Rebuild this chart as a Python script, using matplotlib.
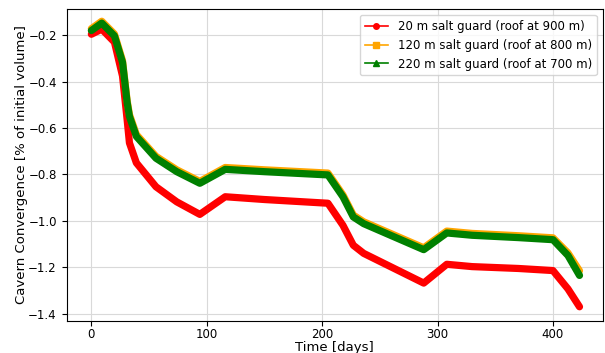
import matplotlib
matplotlib.use("Agg")
from matplotlib import pyplot as plt
from matplotlib.lines import Line2D

# time axis shared by the three runs
days = [0, 9, 20, 27, 31, 33, 39, 56, 74, 94, 116, 150, 205, 218, 227, 236,
        288, 308, 330, 370, 400, 413, 423]

conv_20m = [-0.196, -0.174, -0.23, -0.376, -0.564, -0.664, -0.75, -0.853,
            -0.918, -0.972, -0.896, -0.908, -0.924, -1.019, -1.105, -1.14,
            -1.268, -1.187, -1.197, -1.205, -1.214, -1.293, -1.37]
conv_120m = [-0.172, -0.14, -0.195, -0.31, -0.482, -0.542, -0.628, -0.722,
             -0.78, -0.83, -0.77, -0.78, -0.794, -0.888, -0.975, -1.004,
             -1.116, -1.044, -1.054, -1.064, -1.073, -1.138, -1.215]
conv_220m = [-0.18, -0.148, -0.203, -0.317, -0.49, -0.55, -0.636, -0.73,
             -0.788, -0.838, -0.778, -0.788, -0.802, -0.896, -0.983, -1.012,
             -1.124, -1.052, -1.062, -1.072, -1.081, -1.149, -1.235]

labels = ["20 m salt guard (roof at 900 m)",
          "120 m salt guard (roof at 800 m)",
          "220 m salt guard (roof at 700 m)"]
colors = ["red", "orange", "green"]
markers = ["o", "s", "^"]

fig = plt.figure(figsize=(6.05, 3.53), dpi=100)
ax = fig.add_axes([0.110, 0.0915, 0.886, 0.8825])

for vals, c in zip([conv_20m, conv_120m, conv_220m], colors):
    ax.plot(days, vals, color=c, lw=5.2, solid_joinstyle="round",
            solid_capstyle="round")

handles = [Line2D([], [], color=c, marker=m, markersize=4, lw=1.2)
           for c, m in zip(colors, markers)]
ax.legend(handles, labels, loc="upper right", fontsize=8.5)

ax.set_xlim(-21.5, 443)
ax.set_ylim(-1.43, -0.088)
ax.set_yticks([-1.4, -1.2, -1.0, -0.8, -0.6, -0.4, -0.2])
ax.grid(True, color="#d9d9d9", lw=0.8)
ax.tick_params(labelsize=8.5)
ax.tick_params(axis="x", pad=2)
ax.set_xlabel("Time [days]", fontsize=9.5, labelpad=0)
ax.set_ylabel("Cavern Convergence [% of initial volume]", fontsize=9.5,
              labelpad=0)

fig.savefig("out.png", dpi=100)
